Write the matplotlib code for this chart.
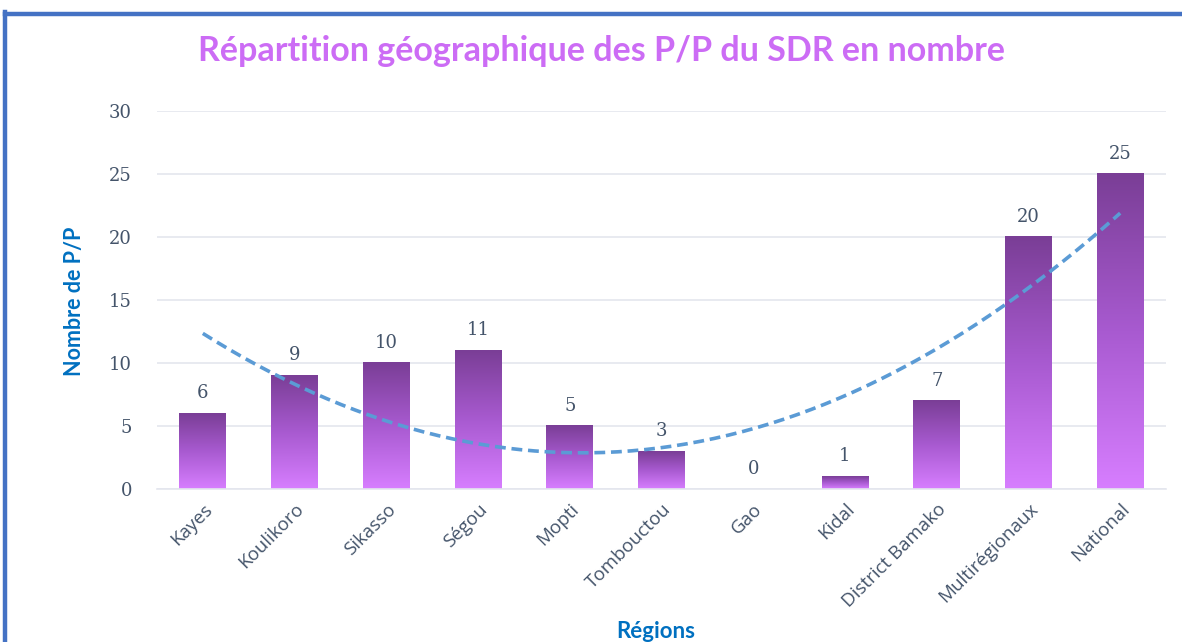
import numpy as np
import matplotlib.pyplot as plt
import matplotlib.transforms as mtransforms
from matplotlib.colors import LinearSegmentedColormap
from matplotlib.lines import Line2D

categories = ["Kayes", "Koulikoro", "Sikasso", "Ségou", "Mopti", "Tombouctou",
              "Gao", "Kidal", "District Bamako", "Multirégionaux", "National"]
values = [6, 9, 10, 11, 5, 3, 0, 1, 7, 20, 25]
yticks = [0, 5, 10, 15, 20, 25, 30]
title = "Répartition géographique des P/P du SDR en nombre"

plt.rcParams['font.family'] = ['Open Sans', 'DejaVu Sans']

fig = plt.figure(figsize=(11.82, 6.42), dpi=100)
ax = fig.add_axes([0.1328, 0.2383, 0.8537, 0.5888])

x = np.arange(len(categories))
bars = ax.bar(x, values, width=0.51, color='none', zorder=2)

cmap = LinearSegmentedColormap.from_list("g", ["#D77EFF", "#A85AD0", "#7A3E96"])
grad = np.linspace(0, 1, 256).reshape(-1, 1)
for b in bars:
    h = b.get_height()
    if h <= 0:
        continue
    x0 = b.get_x()
    ax.imshow(grad, extent=[x0, x0 + b.get_width(), 0, h], origin='lower',
              aspect='auto', cmap=cmap, zorder=2, interpolation='bicubic')

for xi, v in zip(x, values):
    ax.annotate(str(v), (xi, v), xytext=(0, 8), textcoords='offset points',
                ha='center', va='bottom', fontsize=13, color='#44546A',
                family=['DejaVu Serif'])

# polynomial (order 2) trendline computed from the data
coef = np.polyfit(x, values, 2)
xt = np.linspace(x[0], x[-1], 200)
ax.plot(xt, np.polyval(coef, xt), color='#5B9BD5', lw=2.6, ls=(0, (3, 1.6)), zorder=3)

ax.set_xlim(-0.5, len(categories) - 0.5)
ax.set_ylim(0, 30)
ax.set_yticks(yticks)
ax.set_yticklabels([str(t) for t in yticks], fontsize=13, color='#44546A',
                   family=['DejaVu Serif'])
ax.set_xticks(x)
ax.set_xticklabels(categories, rotation=45, ha='right', rotation_mode='anchor',
                   fontsize=13.5, color='#44546A')
offset = mtransforms.ScaledTranslation(-0.12, -0.13, fig.dpi_scale_trans)
for lab in ax.get_xticklabels():
    lab.set_transform(lab.get_transform() + offset)
ax.tick_params(axis='both', length=0)
ax.tick_params(axis='y', pad=18)
ax.tick_params(axis='x', pad=8)
ax.grid(axis='y', color='#E4E6EE', lw=1.2, zorder=0)
ax.set_axisbelow(True)
for s in ['top', 'right', 'left']:
    ax.spines[s].set_visible(False)
ax.spines['bottom'].set_color('#E4E6EE')
ax.spines['bottom'].set_linewidth(1.2)

fig.text(0.509, 0.921, title, ha='center', va='center', fontsize=24.5,
         fontweight='bold', color='#CC6CF5', family=['Lato', 'DejaVu Sans'])
fig.text(0.063, 0.531, "Nombre de P/P", rotation=90, ha='center', va='center',
         fontsize=15.5, color='#0070C0', family=['Lato', 'DejaVu Sans'], fontweight='bold')
fig.text(0.555, 0.016, "Régions", ha='center', va='center', fontsize=16,
         fontweight='bold', color='#0070C0', family=['Lato', 'DejaVu Sans'])

fig.add_artist(Line2D([0.004, 1.0], [0.978, 0.978], transform=fig.transFigure,
                      color='#4472C4', lw=3.2))
fig.add_artist(Line2D([0.0045, 0.0045], [0.0, 0.981], transform=fig.transFigure,
                      color='#4472C4', lw=3.2))

fig.savefig("out.png", dpi=100, facecolor='white')
